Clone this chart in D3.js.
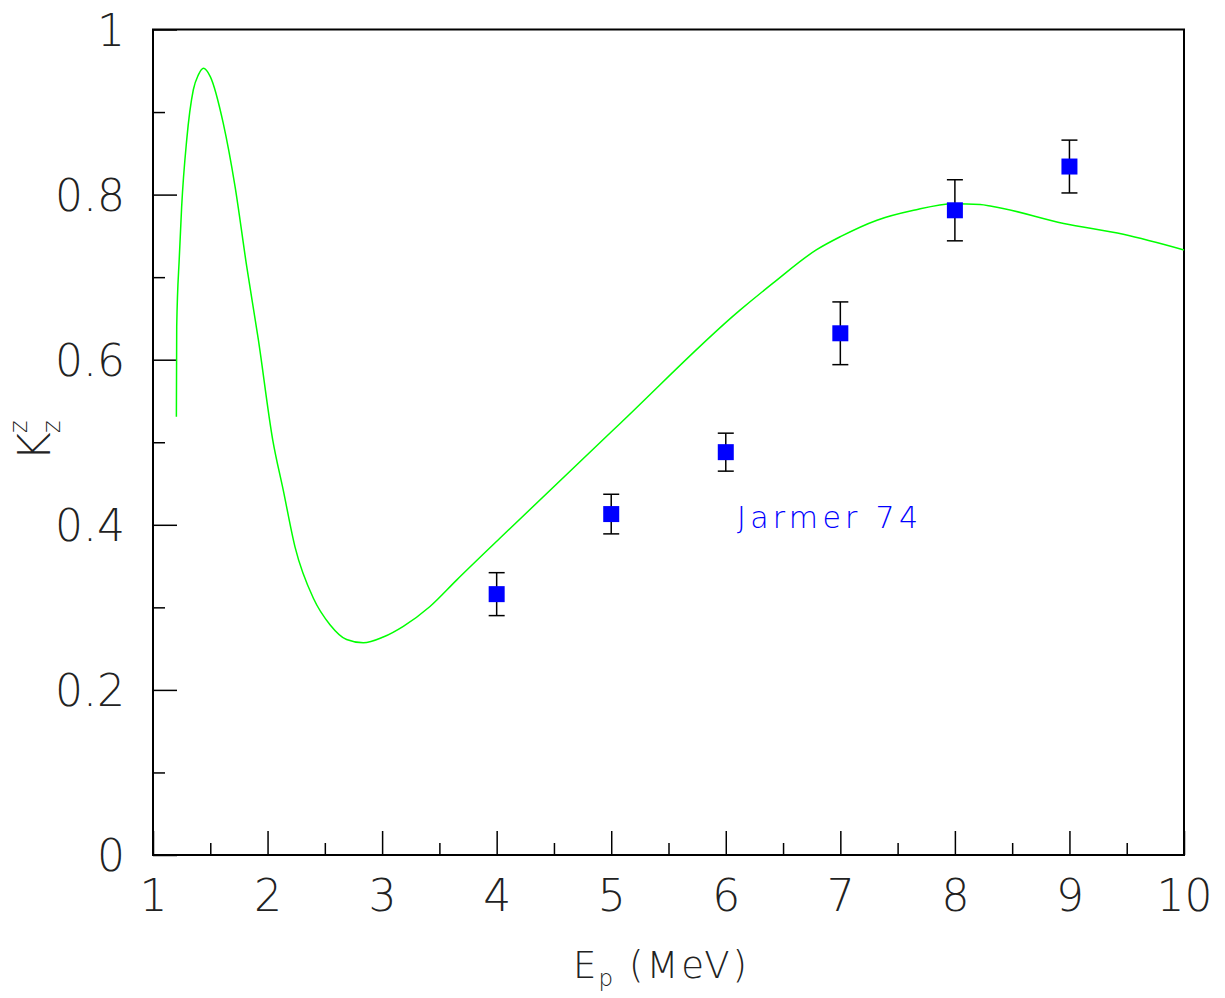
<!DOCTYPE html>
<html>
<head>
<meta charset="utf-8">
<script src="https://cdn.jsdelivr.net/npm/d3@7"></script>
<style>
  body { margin: 0; background: #fff; }
  text { font-family: "DejaVu Sans", sans-serif; font-weight: 200; }
</style>
</head>
<body>
<svg width="1225" height="998"></svg>
<script>
// model curve
let curveX = [1.204, 1.207, 1.23, 1.25, 1.294, 1.352, 1.396, 1.44, 1.5, 1.614, 1.716, 1.818, 1.92,
  2.045, 2.137, 2.24, 2.4, 2.545, 2.69, 2.836, 3.01, 3.185, 3.418, 3.65, 4.03, 5.08, 6.124,
  6.415, 6.79, 7.0, 7.32, 7.64, 7.99, 8.22, 8.32, 8.95, 9.47, 10.0];
let curveY = [0.531, 0.64, 0.725, 0.785, 0.866, 0.927, 0.945, 0.953, 0.943, 0.886, 0.81, 0.713, 0.624,
  0.503, 0.442, 0.373, 0.311, 0.279, 0.261, 0.257, 0.264, 0.277, 0.301, 0.333, 0.384, 0.523, 0.66,
  0.693, 0.733, 0.749, 0.769, 0.781, 0.789, 0.788, 0.786, 0.765, 0.752, 0.733];

// Jarmer 74 data
let expX = [4, 5, 6, 7, 8, 9];
let expY = [0.316, 0.413, 0.488, 0.632, 0.781, 0.834];
let expErr = [0.026, 0.024, 0.023, 0.038, 0.037, 0.032];

let xMajor = [1, 2, 3, 4, 5, 6, 7, 8, 9, 10];
let xMinor = [1.5, 2.5, 3.5, 4.5, 5.5, 6.5, 7.5, 8.5, 9.5];
let yMajor = [0, 0.2, 0.4, 0.6, 0.8, 1];
let yMinor = [0.1, 0.3, 0.5, 0.7, 0.9];

let svg = d3.select('svg');
let padLeft = 153, padRight = 1184, padTop = 29.5, padBottom = 855;

let x = d3.scaleLinear().domain([1, 10]).range([padLeft, padRight]);
let y = d3.scaleLinear().domain([0, 1]).range([padBottom, padTop]);

// ticks
let xAxis = svg.append('g').attr('transform', `translate(0,${padBottom})`)
  .call(d3.axisBottom(x).tickValues(xMajor).tickSize(-24).tickPadding(25).tickFormat(d3.format('')));
let xAxisMinor = svg.append('g').attr('transform', `translate(0,${padBottom})`)
  .call(d3.axisBottom(x).tickValues(xMinor).tickSize(-12).tickFormat(''));
let yAxis = svg.append('g').attr('transform', `translate(${padLeft},0)`)
  .call(d3.axisLeft(y).tickValues(yMajor).tickSize(-24).tickPadding(28).tickFormat(d3.format('')));
let yAxisMinor = svg.append('g').attr('transform', `translate(${padLeft},0)`)
  .call(d3.axisLeft(y).tickValues(yMinor).tickSize(-12).tickFormat(''));

[xAxis, xAxisMinor, yAxis, yAxisMinor].forEach((g) => {
  g.select('.domain').remove();
  g.selectAll('line').attr('stroke', '#000').attr('stroke-width', 1.5);
  g.selectAll('text').attr('font-size', 44).attr('fill', '#222')
    .style('font-family', '"DejaVu Sans", sans-serif').style('font-weight', 200);
});
yAxis.selectAll('text').attr('dy', '0.36em');

// frame
svg.append('rect')
  .attr('x', padLeft).attr('y', padTop)
  .attr('width', padRight - padLeft).attr('height', padBottom - padTop)
  .attr('fill', 'none').attr('stroke', '#000').attr('stroke-width', 2);

// model curve
let line = d3.line()
  .x((d, i) => x(curveX[i]))
  .y((d) => y(d))
  .curve(d3.curveMonotoneX);

svg.append('path')
  .datum(curveY)
  .attr('d', line)
  .attr('fill', 'none')
  .attr('stroke', '#00ff00')
  .attr('stroke-width', 1.5);

// error bars
let pts = expX.map((v, i) => ({ x: v, y: expY[i], e: expErr[i] }));
let bars = svg.append('g').selectAll('g').data(pts).enter().append('g');
bars.append('line')
  .attr('x1', (d) => x(d.x)).attr('x2', (d) => x(d.x))
  .attr('y1', (d) => y(d.y + d.e)).attr('y2', (d) => y(d.y - d.e))
  .attr('stroke', '#000').attr('stroke-width', 1.5);
bars.selectAll('line.cap')
  .data((d) => [d.y + d.e, d.y - d.e].map((v) => ({ x: d.x, v })))
  .enter().append('line').classed('cap', true)
  .attr('x1', (d) => x(d.x) - 8).attr('x2', (d) => x(d.x) + 8)
  .attr('y1', (d) => y(d.v)).attr('y2', (d) => y(d.v))
  .attr('stroke', '#000').attr('stroke-width', 1.5);
bars.append('rect')
  .attr('x', (d) => x(d.x) - 8).attr('y', (d) => y(d.y) - 8)
  .attr('width', 16).attr('height', 16)
  .attr('fill', '#0000ff');

// label
svg.append('text')
  .attr('x', 737).attr('y', 528)
  .attr('font-size', 30).attr('fill', '#0000ff')
  .attr('textLength', 181).attr('lengthAdjust', 'spacing')
  .text('Jarmer 74');

// x title
let xt = svg.append('text').attr('x', 573).attr('y', 978).attr('font-size', 37).attr('fill', '#222');
xt.append('tspan').text('E');
xt.append('tspan').attr('font-size', 23).attr('dy', 8).attr('dx', 2).text('p');
xt.append('tspan').attr('dy', -8).attr('dx', 16).attr('letter-spacing', 3).text('(MeV)');

// y title
svg.append('text')
  .attr('transform', 'translate(50,461) rotate(-90)')
  .attr('font-size', 44).attr('fill', '#222').text('K');
svg.append('text')
  .attr('transform', 'translate(27,433) rotate(-90)')
  .attr('font-size', 24).attr('fill', '#222').text('z');
svg.append('text')
  .attr('transform', 'translate(60,433) rotate(-90)')
  .attr('font-size', 24).attr('fill', '#222').text('z');
</script>
</body>
</html>
